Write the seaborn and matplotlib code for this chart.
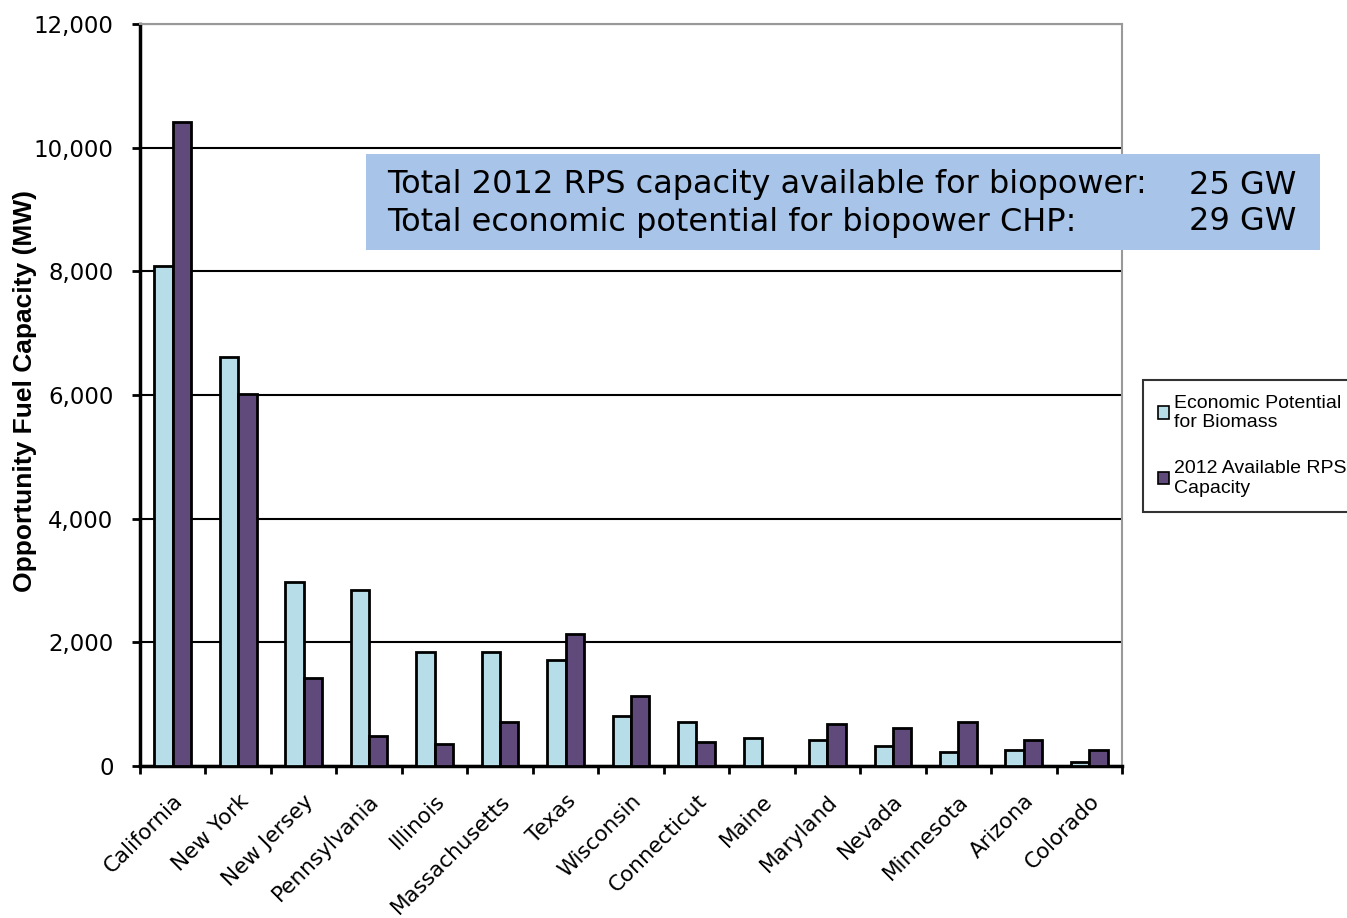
import seaborn as sns
import matplotlib.pyplot as plt
import pandas as pd
from matplotlib.patches import Rectangle
from matplotlib.ticker import FuncFormatter

# data (MW)
states = ['California', 'New York', 'New Jersey', 'Pennsylvania', 'Illinois',
          'Massachusetts', 'Texas', 'Wisconsin', 'Connecticut', 'Maine',
          'Maryland', 'Nevada', 'Minnesota', 'Arizona', 'Colorado']
econ_potential = [8090, 6610, 2980, 2850, 1850, 1850, 1720, 815, 715, 460,
                  425, 330, 230, 265, 70]
rps_capacity = [10420, 6010, 1430, 490, 360, 710, 2140, 1140, 395, 0,
                685, 620, 715, 425, 265]
series = ['Economic Potential\nfor Biomass', '2012 Available RPS\nCapacity']
colors = ['#B7DEE8', '#604A7B']

df = pd.DataFrame({
    'state': states * 2,
    'series': [series[0]] * len(states) + [series[1]] * len(states),
    'mw': econ_potential + rps_capacity,
})

sns.set_theme(style='white', rc={'text.color': 'black', 'axes.labelcolor': 'black',
                                 'xtick.color': 'black', 'ytick.color': 'black'})
plt.rcParams['font.family'] = ['DejaVu Sans']

fig = plt.figure(figsize=(13.47, 9.18), dpi=100)
ax = fig.add_axes([140 / 1347, 1 - 766 / 918, 982 / 1347, 742 / 918])

sns.barplot(data=df, x='state', y='mw', hue='series', palette=colors,
            width=0.56, edgecolor='black', linewidth=2, saturation=1,
            legend=True, ax=ax, zorder=3)

ax.set_ylim(0, 12000)
ax.set_xlim(-0.5, len(states) - 0.5)
ax.set_yticks(range(0, 12001, 2000))
ax.yaxis.set_major_formatter(FuncFormatter(lambda v, p: f'{int(v):,}'))
ax.yaxis.grid(True, color='black', linewidth=1.5, zorder=0)
ax.set_axisbelow(True)

ax.set_xlabel('')
ax.set_ylabel('Opportunity Fuel Capacity (MW)', fontsize=19, fontweight='bold',
              family='Liberation Sans')
ax.yaxis.set_label_coords(-0.105, 0.505)

ax.set_xticks(range(len(states)))
ax.set_xticklabels(states, rotation=45, ha='right', rotation_mode='anchor',
                   fontsize=15.5)
ax.set_xticks([i - 0.5 for i in range(len(states) + 1)], minor=True)
ax.tick_params(axis='x', which='major', length=0, pad=18)
ax.tick_params(axis='x', which='minor', length=6, width=2, color='black',
               direction='out', bottom=True)
ax.tick_params(axis='y', length=6, width=2, color='black', direction='out',
               left=True, labelsize=16.5, pad=13)

for s in ['left', 'bottom']:
    ax.spines[s].set_color('black')
    ax.spines[s].set_linewidth(2.5)
for s in ['top', 'right']:
    ax.spines[s].set_color('#999999')
    ax.spines[s].set_linewidth(1.5)

# legend outside on the right
handles, labels = ax.get_legend_handles_labels()
ax.legend_.remove()
leg = fig.legend(handles, labels, loc='upper left',
                 bbox_to_anchor=(1143 / 1347, 1 - 380 / 918), borderaxespad=0,
                 frameon=True, fancybox=False, edgecolor='black',
                 handlelength=0.6, handleheight=0.6, handletextpad=0.25,
                 labelspacing=1.5, borderpad=0.75,
                 prop={'family': 'Liberation Sans', 'size': 14})
leg.get_frame().set_linewidth(1.5)
for h in leg.legend_handles:
    h.set_edgecolor('black')
    h.set_linewidth(1.2)

# summary box
fig.patches.append(Rectangle((366 / 1347, 1 - 250 / 918), 954 / 1347, 96 / 918,
                             transform=fig.transFigure, facecolor='#A8C4E8',
                             edgecolor='none', zorder=5))
fig.text(387 / 1347, 1 - 185 / 918, 'Total 2012 RPS capacity available for biopower:',
         fontsize=23, va='center', ha='left', zorder=6)
fig.text(387 / 1347, 1 - 222 / 918, 'Total economic potential for biopower CHP:',
         fontsize=23, va='center', ha='left', zorder=6)
fig.text(1296 / 1347, 1 - 185 / 918, '25 GW', fontsize=23, va='center', ha='right', zorder=6)
fig.text(1296 / 1347, 1 - 222 / 918, '29 GW', fontsize=23, va='center', ha='right', zorder=6)

fig.savefig('out.png', dpi=100)
